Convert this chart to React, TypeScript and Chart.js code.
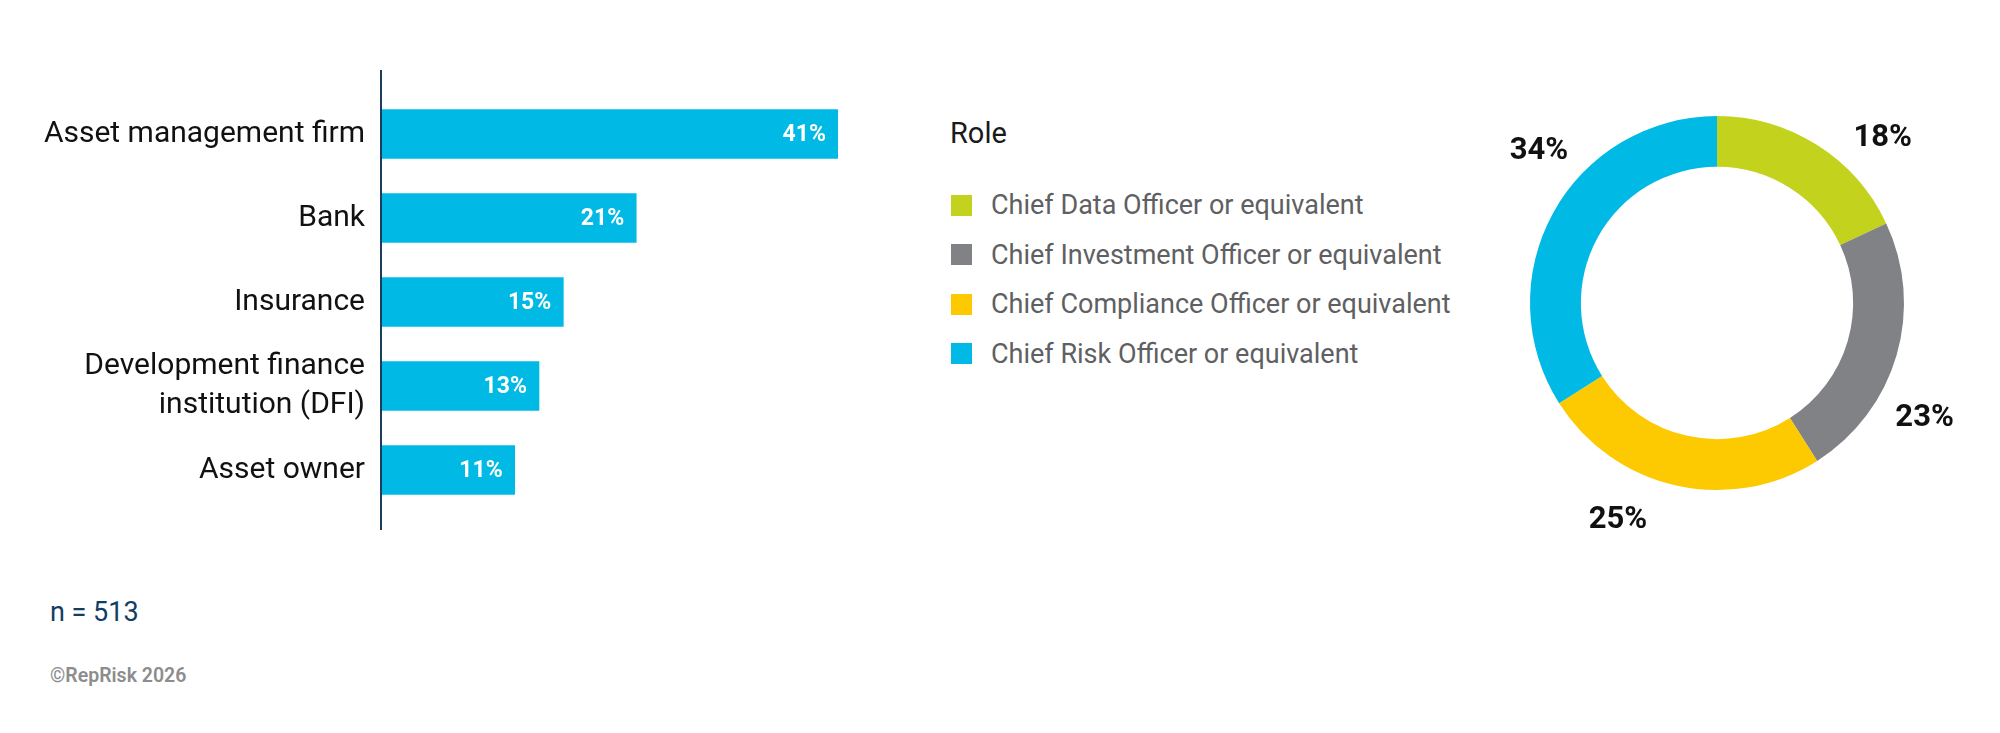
import { useEffect, useRef } from 'react';
import { Chart, registerables } from 'chart.js';

Chart.register(...registerables);

// organisation type (left bar chart)
const sectorLabels: (string | string[])[] = [
  'Asset management firm',
  'Bank',
  'Insurance',
  ['Development finance', 'institution (DFI)'],
  'Asset owner',
];
const sectorShares = [41, 21, 15, 13, 11];

// role (right doughnut)
const roleLabels = [
  'Chief Data Officer or equivalent',
  'Chief Investment Officer or equivalent',
  'Chief Compliance Officer or equivalent',
  'Chief Risk Officer or equivalent',
];
const roleShares = [18, 23, 25, 34];
const roleColors = ['#c3d21c', '#808285', '#fdc900', '#00b9e4'];

const roleTitle = 'Role';
const sampleNote = 'n = 513';
const copyright = '©RepRisk 2026';

const FONT = 'Roboto, sans-serif';

const SectorBars = () => {
  const canvasRef = useRef(null as HTMLCanvasElement | null);
  const chartRef = useRef(null as any);

  useEffect(() => {
    const ctx = canvasRef.current?.getContext('2d');
    if (!ctx) return;

    // axis line sticks out a little above and below the bars
    const axisLine = {
      id: 'axisLine',
      afterDatasetsDraw(chart: any) {
        const { ctx, chartArea } = chart;
        ctx.save();
        ctx.strokeStyle = '#1b3d5c';
        ctx.lineWidth = 2;
        ctx.beginPath();
        ctx.moveTo(chartArea.left, chartArea.top - 22);
        ctx.lineTo(chartArea.left, chartArea.bottom + 18);
        ctx.stroke();
        ctx.restore();
      },
    };

    const barValues = {
      id: 'barValues',
      afterDatasetsDraw(chart: any) {
        const { ctx, chartArea } = chart;
        const meta = chart.getDatasetMeta(0);
        ctx.save();
        ctx.font = `bold 23px ${FONT}`;
        ctx.fillStyle = '#ffffff';
        ctx.textAlign = 'right';
        ctx.textBaseline = 'middle';
        meta.data.forEach((bar: any, i: number) => {
          const x = Math.min(bar.x, chartArea.right) - 12;
          ctx.fillText(`${sectorShares[i]}%`, x, bar.y + 1);
        });
        ctx.restore();
      },
    };

    chartRef.current = new Chart(ctx, {
      type: 'bar',
      data: {
        labels: sectorLabels,
        datasets: [{
          data: sectorShares,
          backgroundColor: '#00b9e4',
          borderWidth: 0,
          barThickness: 49,
        }],
      },
      options: {
        indexAxis: 'y',
        responsive: false,
        animation: false,
        layout: { padding: { left: 0, right: 62, top: 92, bottom: 48 } },
        plugins: {
          legend: { display: false },
          tooltip: { enabled: false },
        },
        scales: {
          x: { display: false, min: 0, max: 37.6 },
          y: {
            grid: { display: false, drawTicks: false },
            border: { display: false },
            ticks: {
              color: '#111111',
              padding: 16,
              font: { family: FONT, size: 30, lineHeight: 1.33 },
            },
            afterFit: (scale: any) => { scale.width = 381; },
          },
        },
      } as any,
      plugins: [axisLine, barValues],
    });

    return () => {
      if (chartRef.current) chartRef.current.destroy();
    };
  }, []);

  return (
    <div style={{ position: 'absolute', left: 0, top: 0, width: 900, height: 560 }}>
      <canvas ref={canvasRef} width={900} height={560} style={{ width: 900, height: 560 }} />
    </div>
  );
};

const RoleDoughnut = () => {
  const canvasRef = useRef(null as HTMLCanvasElement | null);
  const chartRef = useRef(null as any);

  useEffect(() => {
    const ctx = canvasRef.current?.getContext('2d');
    if (!ctx) return;

    // percentages sit outside the ring, a bit clockwise of each slice's middle
    const outsideLabels = {
      id: 'outsideLabels',
      afterDatasetsDraw(chart: any) {
        const { ctx } = chart;
        const meta = chart.getDatasetMeta(0);
        const size = 31;
        ctx.save();
        ctx.font = `bold ${size}px ${FONT}`;
        ctx.fillStyle = '#111111';
        ctx.textAlign = 'center';
        ctx.textBaseline = 'alphabetic';
        meta.data.forEach((arc: any, i: number) => {
          const { x, y, startAngle, endAngle, outerRadius } = arc.getProps(
            ['x', 'y', 'startAngle', 'endAngle', 'outerRadius'], true);
          const a = (startAngle + endAngle) / 2 + 0.213;
          const r = outerRadius + 49;
          ctx.fillText(`${roleShares[i]}%`, x + Math.cos(a) * r, y + Math.sin(a) * r + size * 0.355);
        });
        ctx.restore();
      },
    };

    chartRef.current = new Chart(ctx, {
      type: 'doughnut',
      data: {
        labels: roleLabels,
        datasets: [{
          data: roleShares,
          backgroundColor: roleColors,
          borderWidth: 0,
        }],
      },
      options: {
        responsive: false,
        animation: false,
        cutout: '72.8%',
        layout: { padding: 113 },
        plugins: {
          legend: { display: false },
          tooltip: { enabled: false },
        },
      } as any,
      plugins: [outsideLabels],
    });

    return () => {
      if (chartRef.current) chartRef.current.destroy();
    };
  }, []);

  return (
    <div style={{ position: 'absolute', left: 1417, top: 3, width: 600, height: 600 }}>
      <canvas ref={canvasRef} width={600} height={600} style={{ width: 600, height: 600 }} />
    </div>
  );
};

const RoleLegend = () => (
  <div style={{ position: 'absolute', left: 950, top: 0 }}>
    <div style={{ position: 'absolute', left: 0, top: 119, fontSize: 29, lineHeight: '29px', color: '#1a1a1a', whiteSpace: 'nowrap' }}>
      {roleTitle}
    </div>
    {roleLabels.map((label, i) => (
      <div
        key={label}
        style={{ position: 'absolute', left: 1, top: 194 + i * 49.5, height: 22, display: 'flex', alignItems: 'center', whiteSpace: 'nowrap' }}
      >
        <span style={{ display: 'inline-block', width: 21, height: 21, background: roleColors[i] }} />
        <span style={{ marginLeft: 19, fontSize: 27, lineHeight: '22px', color: '#5f6062' }}>{label}</span>
      </div>
    ))}
  </div>
);

export default function App() {
  return (
    <div style={{ position: 'absolute', left: 0, top: 0, width: 2000, height: 733, background: '#ffffff', fontFamily: FONT, overflow: 'hidden' }}>
      <SectorBars />
      <RoleLegend />
      <RoleDoughnut />
      <div style={{ position: 'absolute', left: 50, top: 599, fontSize: 27, lineHeight: '27px', color: '#123e63', whiteSpace: 'nowrap' }}>
        {sampleNote}
      </div>
      <div style={{ position: 'absolute', left: 50, top: 666, fontSize: 19.5, lineHeight: '20px', fontWeight: 600, color: '#8d8d8d', whiteSpace: 'nowrap' }}>
        {copyright}
      </div>
    </div>
  );
}
